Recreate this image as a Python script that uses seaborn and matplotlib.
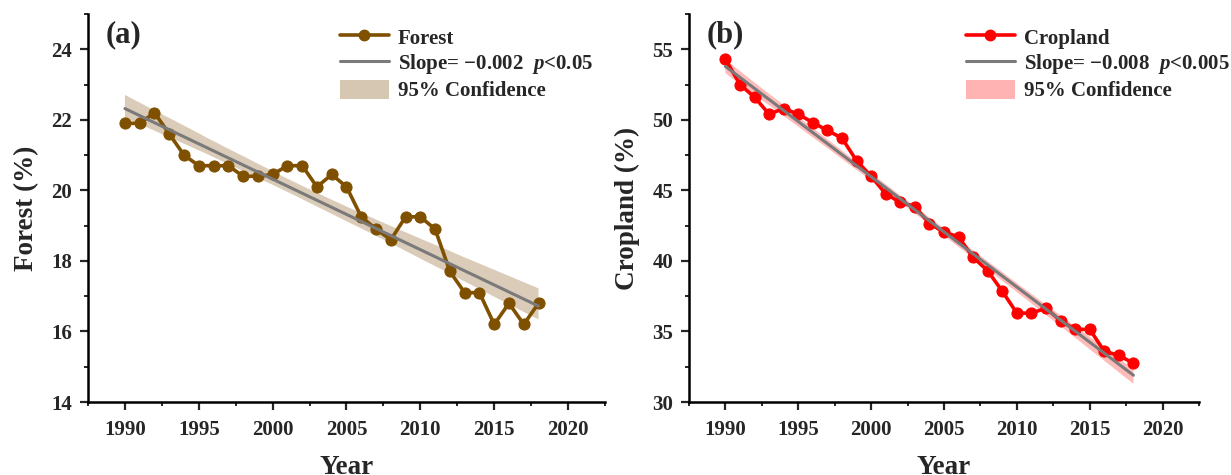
import numpy as np
import pandas as pd
import matplotlib
matplotlib.use("Agg")
import matplotlib.pyplot as plt
from matplotlib.lines import Line2D
from matplotlib.patches import Patch
from matplotlib.collections import PolyCollection
from matplotlib.ticker import MultipleLocator
import seaborn as sns

years = list(range(1990, 2019))
forest = [21.9, 21.9, 22.2, 21.6, 21.0, 20.7, 20.7, 20.7, 20.4, 20.4,
          20.45, 20.7, 20.7, 20.1, 20.45, 20.1, 19.25, 18.9, 18.6, 19.25,
          19.25, 18.9, 17.7, 17.1, 17.1, 16.2, 16.8, 16.2, 16.8]
cropland = [54.3, 52.5, 51.6, 50.4, 50.8, 50.4, 49.8, 49.25, 48.7, 47.1,
            46.0, 44.75, 44.15, 43.85, 42.65, 42.05, 41.7, 40.25, 39.3, 37.85,
            36.3, 36.3, 36.65, 35.75, 35.15, 35.15, 33.6, 33.3, 32.75]

panel_labels = ["(a)", "(b)"]
series_names = ["Forest", "Cropland"]
ylabels = ["Forest (%)", "Cropland (%)"]
slope_labels = [r"Slope= −0.002  $p$<0.05", r"Slope= −0.008  $p$<0.005"]
ci_label = "95% Confidence"
xticks = [1990, 1995, 2000, 2005, 2010, 2015, 2020]
yticks_a = [14, 16, 18, 20, 22, 24]
yticks_b = [30, 35, 40, 45, 50, 55]

sns.set_style("ticks")
plt.rcParams["font.family"] = ["Liberation Serif", "DejaVu Serif"]
plt.rcParams["font.weight"] = "bold"
plt.rcParams["mathtext.fontset"] = "custom"
plt.rcParams["mathtext.it"] = "Liberation Serif:italic:bold"
plt.rcParams["mathtext.rm"] = "Liberation Serif:bold"

fig = plt.figure(figsize=(12.31, 4.75), dpi=100)
ax_a = fig.add_axes([88 / 1231, 73 / 475, 517 / 1231, 388 / 475])
ax_b = fig.add_axes([689 / 1231, 73 / 475, 510 / 1231, 388 / 475])

configs = [
    (ax_a, forest, "#7f5000", "#d6c7b2", (14, 25), yticks_a, 1, 0, 0.487),
    (ax_b, cropland, "#ff0000", "#ffb3b3", (30, 57.5), yticks_b, 2.5, 1, 0.543),
]

for ax, vals, col, band, ylim, yt, yminor, i, legx in configs:
    df = pd.DataFrame({"Year": years, "Value": vals})
    sns.regplot(data=df, x="Year", y="Value", ax=ax, scatter=False, ci=95,
                seed=0, color=col, line_kws=dict(color="#7a7a7a", lw=2.2, zorder=3))
    for c in ax.collections:
        if isinstance(c, PolyCollection):
            c.set_facecolor(band)
            c.set_alpha(0.9)
            c.set_edgecolor("none")
            c.set_zorder(1)
    sns.lineplot(data=df, x="Year", y="Value", ax=ax, color=col, marker="o",
                 markersize=8, markeredgecolor=col, lw=2.6, zorder=2)
    ax.set_xlim(1987.5, 2022.5)
    ax.set_ylim(*ylim)
    ax.set_xticks(xticks)
    ax.xaxis.set_minor_locator(MultipleLocator(2.5))
    ax.set_yticks(yt)
    ax.yaxis.set_minor_locator(MultipleLocator(yminor))
    ax.tick_params(axis="both", which="major", length=5.8, width=1.6, labelsize=15, direction="out")
    ax.tick_params(axis="both", which="minor", length=3, width=1.4, direction="out")
    ax.tick_params(axis="x", which="major", pad=7)
    ax.tick_params(axis="y", which="major", pad=5.5)
    for lab in ax.get_xticklabels() + ax.get_yticklabels():
        lab.set_fontweight("bold")
    for s in ["left", "bottom"]:
        ax.spines[s].set_linewidth(1.8)
        ax.spines[s].set_color("black")
    sns.despine(ax=ax)
    ax.set_xlabel("Year", fontsize=19.5, fontweight="bold", labelpad=11)
    ax.set_ylabel(ylabels[i], fontsize=19.5, fontweight="bold", labelpad=9)
    ax.text(0.035, 0.985, panel_labels[i], transform=ax.transAxes, fontsize=22,
            fontweight="bold", va="top", ha="left")
    handles = [
        Line2D([], [], color=col, lw=2.6, marker="o", markersize=7.5),
        Line2D([], [], color="#7a7a7a", lw=2.2),
        Patch(facecolor=band, edgecolor="none"),
    ]
    labels = [series_names[i], slope_labels[i], ci_label]
    ax.legend(handles, labels, loc="upper left", bbox_to_anchor=(legx, 0.967),
              frameon=False, prop=dict(size=15, weight="bold"), handlelength=2.35,
              handleheight=1.05, handletextpad=0.45, labelspacing=0.17,
              borderaxespad=0, borderpad=0)

fig.savefig("out.png", dpi=100)
